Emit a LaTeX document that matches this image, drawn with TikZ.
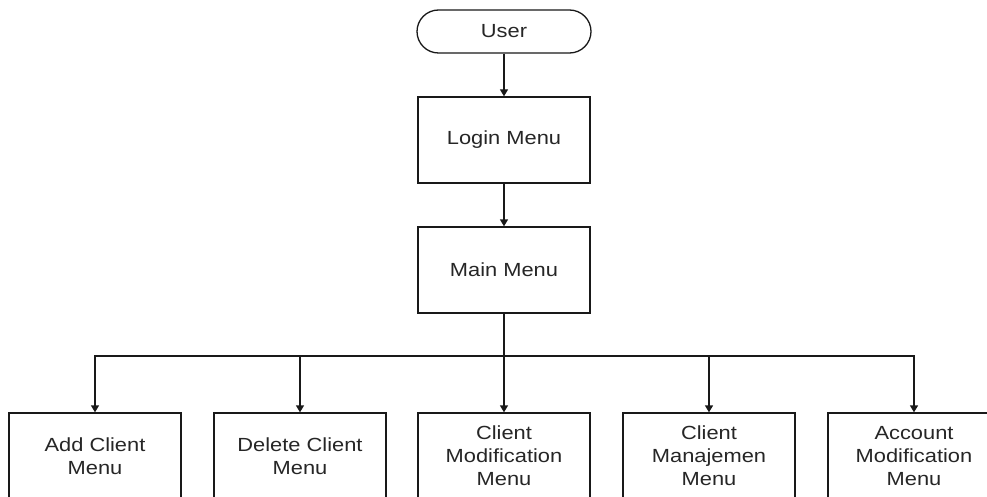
\documentclass[tikz,border=0pt]{standalone}
\usepackage{fontspec}
\setmainfont[FakeStretch=1.15]{Liberation Sans}
\usetikzlibrary{arrows.meta}
\begin{document}
\begin{tikzpicture}[x=1pt,y=-1pt,
  every node/.style={font=\fontsize{19}{23}\selectfont, text=black!85},
  menubox/.style={draw=black!90, line width=1.3pt, rectangle, minimum width=172pt, minimum height=86pt, align=center, inner sep=0pt},
  termbox/.style={draw=black!90, line width=1.3pt, rectangle, rounded corners=21.5pt, minimum width=174pt, minimum height=43pt, inner sep=0pt},
  conn/.style={draw=black!90, line width=1.3pt, -{Triangle[length=7pt,width=8pt]}}
]
\useasboundingbox (0,0) rectangle (987,497);
\clip (0,0) rectangle (987,497);
\fill[white] (0,0) rectangle (987,497);
\node[termbox] (user) at (504,31.5) {User};
\node[menubox] (login) at (504,140) {Login Menu};
\node[menubox] (main) at (504,270) {Main Menu};
\node[menubox] (add) at (95,456) {Add Client\\Menu};
\node[menubox] (del) at (300,456) {Delete Client\\Menu};
\node[menubox] (cmod) at (504,456) {Client\\Modification\\Menu};
\node[menubox] (cman) at (709,456) {Client\\Manajemen\\Menu};
\node[menubox] (amod) at (914,456) {Account\\Modification\\Menu};
\coordinate (hub) at (504,356);
\draw[conn] (user) -- (login);
\draw[conn] (login) -- (main);
\draw[line width=1.3pt, draw=black!90] (main.south) -- (hub);
\draw[conn] (hub) -| (add.north);
\draw[conn] (hub) -| (del.north);
\draw[conn] (hub) -- (cmod.north);
\draw[conn] (hub) -| (cman.north);
\draw[conn] (hub) -| (amod.north);
\end{tikzpicture}
\end{document}
